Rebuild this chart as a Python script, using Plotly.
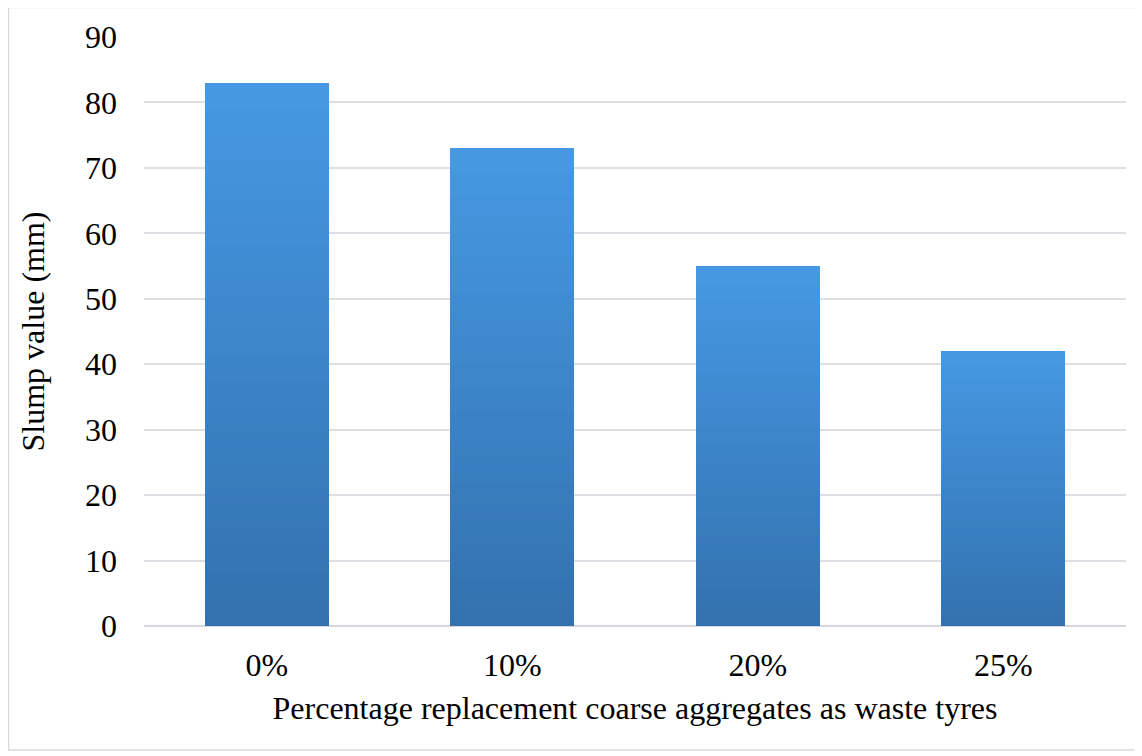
import plotly.graph_objects as go

categories = ["0%", "10%", "20%", "25%"]
slump_mm = [83, 73, 55, 42]
y_ticks = [0, 10, 20, 30, 40, 50, 60, 70, 80, 90]

top_rgb = (70, 153, 227)
bottom_rgb = (51, 113, 174)
N = 40

fig = go.Figure()
for i in range(N):
    t = (i + 0.5) / N
    c = tuple(round(b + (tp - b) * t) for b, tp in zip(bottom_rgb, top_rgb))
    fig.add_trace(go.Bar(
        x=categories,
        y=[v / N for v in slump_mm],
        marker=dict(color=f"rgb{c}", line=dict(width=0)),
        showlegend=False,
        hoverinfo="skip",
    ))

font = "Liberation Serif, Times New Roman, serif"
fig.update_layout(
    barmode="stack",
    bargap=0.495,
    width=1134, height=748,
    margin=dict(l=136, r=16, t=29, b=130),
    paper_bgcolor="white", plot_bgcolor="white",
    font=dict(family=font, size=32, color="black"),
    xaxis=dict(
        showgrid=False, showline=False, ticks="",
        tickfont=dict(size=32), ticklabelstandoff=17,
        title=dict(text="Percentage replacement coarse aggregates as waste tyres",
                   font=dict(size=32), standoff=14),
    ),
    yaxis=dict(
        range=[0, 90], tickvals=y_ticks, showgrid=True,
        gridcolor="#DDE1E6", gridwidth=1.5, zeroline=True, zerolinecolor="#D5D9DF",
        zerolinewidth=1.5, ticks="", tickfont=dict(size=32), ticklabelstandoff=26,
        title=dict(text="Slump value (mm)", font=dict(size=32), standoff=30),
    ),
    shapes=[dict(type="rect", xref="paper", yref="paper",
                 x0=-0.13798, x1=1.01018, y0=-0.21053, y1=1.05008,
                 line=dict(color="#D9D9D9", width=1.5), layer="below")],
)

fig.write_html("out.html")
